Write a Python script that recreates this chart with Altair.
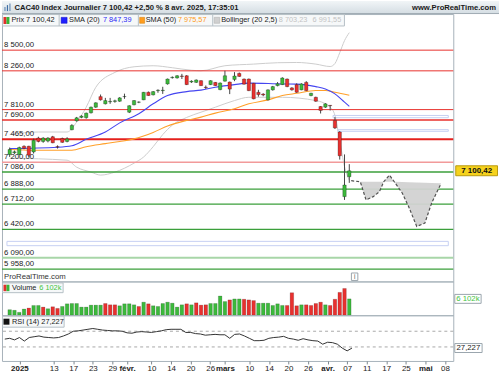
import json
import altair as alt
import pandas as pd

FONT = "Liberation Sans"

# ---------------- data ----------------
day_idx = list(range(72))
opens = [7289, 7308, 7289, 7385, 7385, 7319, 7480, 7440, 7445, 7495, 7380, 7475, 7440, 7577, 7680, 7720,
         7716, 7773, 7838, 7961, 7877, 7900, 7905, 7907, 7960, 7780, 7866, 7896, 7923, 8011, 7981, 8030,
         8030, 8108, 8180, 8177, 8200, 8203, 8130, 8126, 8146, 8070, 8100, 8126, 8042, 8140, 8130, 8160,
         8230, 8165, 8165, 8115, 8011, 7990, 7923, 8039, 8088, 8100, 8165, 8062, 8100, 8039, 8126, 7973,
         7953, 7846, 7838, 7860, 7685, 7550, 6800, 7031]
highs = [7370, 7335, 7380, 7395, 7390, 7473, 7495, 7490, 7490, 7505, 7395, 7485, 7490, 7640, 7725, 7745,
         7775, 7845, 7895, 7985, 7946, 7946, 7925, 7955, 7995, 7860, 7920, 7905, 8015, 8020, 8025, 8045,
         8075, 8170, 8195, 8210, 8225, 8210, 8150, 8160, 8150, 8090, 8150, 8130, 8125, 8261, 8135, 8245,
         8240, 8170, 8170, 8120, 8040, 8000, 8045, 8085, 8130, 8185, 8170, 8070, 8115, 8115, 8140, 8005,
         7960, 7850, 7885, 7862, 7723, 7560, 7290, 7177]
lows = [7261, 7296, 7280, 7350, 7258, 7300, 7430, 7425, 7430, 7420, 7358, 7425, 7430, 7570, 7670, 7710,
        7705, 7765, 7830, 7915, 7870, 7877, 7890, 7900, 7935, 7770, 7860, 7885, 7920, 7970, 7975, 8005,
        7992, 8100, 8170, 8170, 8165, 8095, 8120, 8120, 8085, 8050, 8095, 8085, 8035, 8135, 7990, 8140,
        8190, 8100, 8025, 7930, 7960, 7965, 7915, 8030, 8080, 8095, 8070, 8030, 8005, 8035, 8025, 7965,
        7900, 7765, 7830, 7800, 7585, 7230, 6762, 6960]
closes = [7347, 7320, 7370, 7360, 7281, 7454, 7440, 7480, 7480, 7425, 7375, 7430, 7470, 7627, 7715, 7735,
          7769, 7838, 7889, 7923, 7915, 7905, 7912, 7946, 7962, 7855, 7915, 7898, 8011, 7973, 8019, 8035,
          8035, 8165, 8185, 8203, 8195, 8100, 8140, 8154, 8088, 8065, 8146, 8088, 8119, 8203, 8048, 8200,
          8195, 8105, 8030, 7935, 7984, 7980, 8039, 8077, 8110, 8177, 8077, 8039, 8011, 8108, 8030, 8000,
          7907, 7800, 7877, 7855, 7598, 7274, 6935, 7100.42]
volumes_m = [2.07, 1.82, 1.09, 2.31, 2.68, 3.65, 3.65, 3.04, 2.43, 3.16, 2.55, 3.28, 4.26, 4.38, 4.38, 3.04,
             3.04, 3.77, 3.77, 3.77, 4.38, 3.89, 3.89, 3.53, 4.26, 4.26, 3.89, 3.28, 4.87, 4.26, 3.53, 3.28,
             4.38, 4.87, 4.50, 3.04, 3.89, 4.26, 3.89, 4.62, 3.77, 3.89, 4.38, 4.38, 7.18, 5.11, 5.72, 6.08,
             6.08, 5.96, 5.72, 5.47, 4.50, 4.50, 4.50, 3.65, 4.26, 3.65, 3.65, 8.39, 3.53, 3.89, 3.89, 3.65,
             4.38, 4.87, 3.89, 3.65, 5.96, 8.52, 9.98, 6.102]
vol_dir = ["up", "up", "up", "up", "down", "up", "up", "down", "up", "down", "down", "up", "up", "up", "up", "up",
           "up", "up", "up", "up", "down", "down", "down", "up", "up", "up", "up", "down", "up", "down", "up", "up",
           "up", "up", "up", "up", "up", "down", "up", "down", "down", "down", "up", "up", "up", "up", "down", "up",
           "up", "down", "down", "down", "up", "up", "up", "up", "up", "up", "down", "down", "down", "up", "down", "down",
           "down", "down", "up", "down", "down", "down", "down", "up"]
rsi_vals = [50, 52, 48, 54, 45, 54, 56, 58, 55, 54, 53, 54, 58, 63, 70, 71, 73, 75, 77, 75, 73, 72, 71, 71,
            70, 66, 65, 68, 69, 68, 67, 69, 71, 74, 75, 75, 75, 67, 67, 64, 63, 60, 61, 62, 61, 61, 52, 62,
            63, 58, 52, 46, 46, 47, 52, 54, 55, 57, 52, 50, 47, 51, 48, 46, 45, 37, 42, 41, 37, 27, 20, 27.227]

sma20_i = [0, 10, 13, 16, 20, 23, 27, 30, 33, 37, 40, 43, 47, 50, 57, 60, 64, 66, 68, 70, 71]
sma20_v = [7358, 7373, 7390, 7465, 7550, 7656, 7762, 7877, 7973, 8019, 8036, 8069, 8100, 8117, 8108, 8106,
           8077, 8050, 7992, 7896, 7847.39]
sma50_i = [0, 5, 13, 16, 20, 23, 26, 30, 33, 37, 40, 43, 47, 50, 54, 57, 60, 64, 66, 68, 71]
sma50_v = [7347, 7339, 7339, 7380, 7415, 7440, 7470, 7545, 7620, 7685, 7723, 7769, 7820, 7877, 7923, 7973,
           7999, 8031, 8031, 8011, 7975.57]
boll_up_i = [0, 6, 12, 14, 16, 18, 22, 26, 30, 34, 38, 40, 45, 51, 56, 60, 64, 67, 68, 69, 70, 71]
boll_up_v = [7520, 7550, 7550, 7665, 7838, 8069, 8242, 8307, 8319, 8296, 8267, 8261, 8319, 8338, 8354, 8357,
             8338, 8310, 8345, 8470, 8610, 8703.23]
boll_lo_i = [0, 12, 14, 17, 19, 22, 26, 28, 30, 32, 34, 37, 40, 43, 47, 50, 57, 64, 67, 68, 69, 70, 71]
boll_lo_v = [7246, 7223, 7142, 7085, 7050, 7085, 7189, 7260, 7380, 7520, 7630, 7719, 7780, 7838, 7915, 7953,
             7953, 7915, 7838, 7742, 7450, 7150, 6991.55]

proj_i = [71.4, 73.3, 74.5, 76.0, 77.3, 78.2, 79.4, 80.4, 82.1, 83.4, 85.1, 86.8, 88.2, 90.2]
proj_v = [6985, 6973, 6762, 6800, 6858, 6973, 7050, 6973, 6839, 6685, 6454, 6493, 6724, 6954]
neck_v = [6985, 6973, 6973, 6973, 6973, 6973, 6973, 6973, 6970, 6968, 6965, 6962, 6959, 6954]

res_levels = [8500, 8260, 7810]
res_strong = [7690]
res_major = [7465]
res_weak = [7200]
sup_levels = [7086, 6888, 6712, 6420, 5958]
sup_weak = [6090]

gap_lo = [7716, 7558, 6231]
gap_hi = [7742, 7577, 6281]
gap_from = [67.6, 68.6, -0.57]
gap_to = [91.7, 91.7, 91.7]

tick_idx = [3, 10, 14, 18, 22, 25, 30, 34, 38, 42, 45, 50, 54, 58, 62, 66, 70, 74, 78, 82, 86, 90]
tick_lbl = ["2025", "13", "17", "23", "29", "févr.", "10", "14", "20", "26", "mars", "10", "14", "20",
            "26", "avr.", "07", "11", "17", "25", "mai", "08"]
tick_bold = [3, 25, 45, 66, 86]

price_ticks = [6000, 6500, 7000, 7500, 8000, 8500]
last_close = 7100.42
change_pct = 2.50
last_sma20 = 7847.39
last_sma50 = 7975.57
last_boll_up = 8703.23
last_boll_lo = 6991.55
last_vol_k = 6102
last_rsi = 27.227

# ---------------- helpers ----------------
def fr(v, d=2):
    return f"{v:,.{d}f}".replace(",", " ").replace(".", ",")

X_DOM = [-0.57, 91.7]
W = 454
H_HEAD, H_PRICE, H_VOL, H_RSI = 13, 269, 34, 46
xs = alt.Scale(domain=X_DOM, nice=False, zero=False)
ys = alt.Scale(domain=[5816, 8919], nice=False, zero=False)
vs = alt.Scale(domain=[0, 12.6], nice=False, zero=False)
rs = alt.Scale(domain=[-5.7, 110.8], nice=False, zero=False)

one = pd.DataFrame({"k": [0]})
TXT = "#1a1a1a"
GREEN = "#3cb93c"
RED = "#e8312f"
LEG = 7.4


def txt(s, x, y, color=TXT, size=LEG, weight="normal", align="left"):
    return alt.Chart(one).mark_text(text=s, font=FONT, fontSize=size, fontWeight=weight, color=color,
                                    align=align, baseline="middle").encode(x=alt.value(x), y=alt.value(y))


def box(x1, x2, y1, y2, fill, stroke="#b5bfc6", sw=1):
    return alt.Chart(one).mark_rect(fill=fill, stroke=stroke, strokeWidth=sw).encode(
        x=alt.value(x1), x2=alt.value(x2), y=alt.value(y1), y2=alt.value(y2))


def vline(x, y1, y2, color="#b5bfc6"):
    return alt.Chart(one).mark_rule(color=color, strokeWidth=1).encode(
        x=alt.value(x), y=alt.value(y1), y2=alt.value(y2))

# ---------------- header ----------------
grad = alt.LinearGradient(gradient="linear", stops=[alt.GradientStop(color="#f1f5f7", offset=0),
                                                    alt.GradientStop(color="#d3dce2", offset=1)],
                          x1=0, x2=0, y1=0, y2=1)
head_bg = alt.Chart(one).mark_rect(fill=grad).encode(
    x=alt.value(0), x2=alt.value(500), y=alt.value(0), y2=alt.value(13))
head_line = alt.Chart(one).mark_rule(color="#9fabb3").encode(
    x=alt.value(0), x2=alt.value(500), y=alt.value(12.5))
icon = [alt.Chart(one).mark_rule(color=c, strokeWidth=1.2).encode(
    x=alt.value(xv), y=alt.value(y1), y2=alt.value(10))
    for xv, y1, c in [(3, 6, "#6a8fb8"), (5.5, 4, "#3d6ea5"), (8, 2.5, "#6a8fb8")]]
head_title = f"CAC40 Index Journalier {fr(last_close)} +{fr(change_pct)} % 8 avr. 2025, 17:35:01"
header = alt.layer(
    head_bg, head_line, *icon,
    txt(head_title, 12.5, 6.5, size=7.7, weight="bold"),
    txt("www.ProRealTime.com", 497, 6.5, size=7.7, weight="bold", align="right"),
).properties(width=500, height=H_HEAD, view=alt.ViewBackground(strokeWidth=0))

# ---------------- price panel ----------------
cdf = pd.DataFrame({"i": day_idx, "o": opens, "h": highs, "l": lows, "c": closes})
cdf["dir"] = ["up" if c >= o else "down" for o, c in zip(opens, closes)]


def line_df(ii, vv):
    return pd.DataFrame({"i": ii, "v": vv})


def ind_line(ii, vv, color, width=1):
    return alt.Chart(line_df(ii, vv)).mark_line(color=color, strokeWidth=width, interpolate="monotone").encode(
        x=alt.X("i:Q", scale=xs, axis=None), y=alt.Y("v:Q", scale=ys, axis=None))


def level_layer(vals, color, width):
    return alt.Chart(pd.DataFrame({"v": vals})).mark_rule(color=color, strokeWidth=width).encode(
        y=alt.Y("v:Q", scale=ys, axis=None))


all_levels = res_levels + res_strong + res_major + res_weak + sup_levels + sup_weak
lvl_lbl = pd.DataFrame({"v": all_levels, "t": [fr(v) for v in all_levels]})
level_labels = alt.Chart(lvl_lbl).mark_text(font=FONT, fontSize=7.8, color=TXT, align="left",
                                            baseline="bottom", dy=-1).encode(
    x=alt.value(2), y=alt.Y("v:Q", scale=ys, axis=None), text="t:N")

gaps = alt.Chart(pd.DataFrame({"lo": gap_lo, "hi": gap_hi, "a": gap_from, "b": gap_to})).mark_rect(
    fill="white", fillOpacity=0, stroke="#c6d0f2", strokeWidth=1).encode(
    x=alt.X("a:Q", scale=xs, axis=None), x2="b:Q", y=alt.Y("lo:Q", scale=ys, axis=None), y2="hi:Q")

pdf = pd.DataFrame({"i": proj_i, "v": proj_v, "n": neck_v})
proj_area = alt.Chart(pdf).mark_area(color="#d2d2d2", opacity=0.95).encode(
    x=alt.X("i:Q", scale=xs, axis=None), y=alt.Y("v:Q", scale=ys, axis=None), y2="n:Q")
proj_line = alt.Chart(pdf).mark_line(color="#505050", strokeWidth=1.2, strokeDash=[3, 2]).encode(
    x=alt.X("i:Q", scale=xs, axis=None), y=alt.Y("v:Q", scale=ys, axis=None))

wicks = alt.Chart(cdf).mark_rule(color="#474747", strokeWidth=1).encode(
    x=alt.X("i:Q", scale=xs, axis=None), y=alt.Y("l:Q", scale=ys, axis=None), y2="h:Q")
price_axis = alt.Axis(orient="right", values=price_ticks, title=None, grid=False, domain=False,
                      labelExpr="replace(format(datum.value, ','), ',', ' ')", tickSize=3,
                      labelPadding=2, labelFontSize=7.8, labelFlush=False)
bodies = alt.Chart(cdf).mark_bar(size=3.4, stroke="black", strokeOpacity=0.45, strokeWidth=0.6).encode(
    x=alt.X("i:Q", scale=xs, axis=None),
    y=alt.Y("o:Q", scale=ys, axis=price_axis), y2="c:Q",
    color=alt.Color("dir:N", scale=alt.Scale(domain=["up", "down"], range=[GREEN, RED]), legend=None))

last_df = pd.DataFrame({"v": [last_close], "t": [fr(last_close)]})
last_box = alt.Chart(last_df).mark_rect(fill="#f6d21c", stroke="#b89a10", strokeWidth=1,
                                        yOffset=-5, y2Offset=5).encode(
    x=alt.value(456.5), x2=alt.value(498.5), y=alt.Y("v:Q", scale=ys, axis=None), y2="v:Q")
last_txt = alt.Chart(last_df).mark_text(font=FONT, fontSize=8, fontWeight="bold", color="#111",
                                        align="center", baseline="middle").encode(
    x=alt.value(477.5), y=alt.Y("v:Q", scale=ys, axis=None), text="t:N")

legend_row = [
    box(0.5, 344.5, 0.5, 12, "#f6f8f9"),
    box(1.5, 4.5, 3, 10, "#e0302c", stroke="#e0302c", sw=0),
    box(4.5, 7.5, 3, 10, "#37b537", stroke="#37b537", sw=0),
    txt(f"Prix {fr(last_close)}", 9.5, 6.5),
    vline(57.5, 0.5, 12),
    box(59.5, 65.5, 3.3, 9.3, "#1f1fff", stroke="#1010c0", sw=0.5),
    txt("SMA (20)", 67.5, 6.5),
    txt(fr(last_sma20), 101.5, 6.5, color="#2b2bf5"),
    vline(137.2, 0.5, 12),
    box(138.5, 143.5, 3.3, 9.3, "#ff9d1f", stroke="#d07a00", sw=0.5),
    txt("SMA (50)", 144.5, 6.5),
    txt(fr(last_sma50), 177, 6.5, color="#ff9a1a"),
    vline(212, 0.5, 12),
    box(213.5, 219, 3.3, 9.3, "#d0d0d0", stroke="#a9a9a9", sw=0.5),
    txt("Bollinger (20 2,5)", 220.5, 6.5),
    txt(fr(last_boll_up), 278.5, 6.5, color="#c3c3c3"),
    txt(fr(last_boll_lo), 312.5, 6.5, color="#c3c3c3"),
]

price = alt.layer(
    ind_line(boll_up_i, boll_up_v, "#cdcdcd"),
    ind_line(boll_lo_i, boll_lo_v, "#cdcdcd"),
    gaps,
    level_layer(res_levels, "#e8302c", 1),
    level_layer(res_strong, "#e8302c", 1.6),
    level_layer(res_major, "#e4201c", 2),
    level_layer(res_weak, "#f29a9a", 1.6),
    level_layer(sup_levels, "#3b9f3b", 1.3),
    level_layer(sup_weak, "#a8d6a8", 2),
    level_labels,
    ind_line(sma50_i, sma50_v, "#ffa02a", 1.1),
    ind_line(sma20_i, sma20_v, "#4646f0", 1.1),
    proj_area, proj_line,
    wicks, bodies,
    last_box, last_txt,
    *legend_row,
    txt("ProRealTime.com", 2, 264.5, color="#333", size=7.8),
    box(351.5, 358, 260.5, 268, "#ffffff", stroke="#9aa4ab"),
    txt("i", 354.75, 264.3, color="#555", size=6.5, align="center"),
).properties(width=W, height=H_PRICE)

# ---------------- volume panel ----------------
vdf = pd.DataFrame({"i": day_idx, "v": volumes_m, "d": vol_dir})
vol_axis = alt.Axis(orient="right", values=[0, 10], title=None, grid=False, domain=False, tickSize=3,
                    labelPadding=2, labelFontSize=7.8, labelFlush=False,
                    labelExpr="datum.value == 0 ? '0' : '10M'",
                    labelFontWeight={"condition": {"test": "datum.value == 0", "value": "bold"}, "value": "normal"},
                    labelBaseline={"condition": {"test": "datum.value == 0", "value": "bottom"}, "value": "middle"})
vol_bars = alt.Chart(vdf).mark_bar(size=3.6, stroke="black", strokeOpacity=0.3, strokeWidth=0.5).encode(
    x=alt.X("i:Q", scale=xs, axis=None), y=alt.Y("v:Q", scale=vs, axis=vol_axis),
    color=alt.Color("d:N", scale=alt.Scale(domain=["up", "down"], range=["#52cf52", "#e45454"]), legend=None))
vlast = pd.DataFrame({"v": [last_vol_k / 1000], "t": [f"{last_vol_k // 1000} {last_vol_k % 1000:03d}k"]})
vol_box = alt.Chart(vlast).mark_rect(fill="white", stroke="#9aa5ad", strokeWidth=1, yOffset=-4.5,
                                     y2Offset=4.5).encode(
    x=alt.value(455.5), x2=alt.value(482), y=alt.Y("v:Q", scale=vs, axis=None), y2="v:Q")
vol_txt = alt.Chart(vlast).mark_text(font=FONT, fontSize=7.8, color="#3fc43f", align="center",
                                     baseline="middle").encode(
    x=alt.value(468.7), y=alt.Y("v:Q", scale=vs, axis=None), text="t:N")
volume = alt.layer(
    vol_bars, vol_box, vol_txt,
    box(0.5, 61.5, 1.5, 11.3, "#f6f8f9"),
    box(1.5, 4.5, 3.3, 9.8, "#e0302c", stroke="#e0302c", sw=0),
    box(4.5, 7.5, 3.3, 9.8, "#37b537", stroke="#37b537", sw=0),
    txt("Volume", 10, 6.6),
    txt(vlast["t"][0], 37.5, 6.6, color="#3fc43f"),
).properties(width=W, height=H_VOL)

# ---------------- RSI panel ----------------
rdf = pd.DataFrame({"i": day_idx, "r": rsi_vals})
x_axis = alt.Axis(values=tick_idx, title=None, grid=False, domain=False, tickSize=3, labelPadding=1,
                  labelFontSize=8, labelFlush=False, labelOverlap=False, labelColor="#222",
                  labelExpr=f"{json.dumps(tick_lbl, ensure_ascii=False)}[indexof({json.dumps(tick_idx)}, datum.value)]",
                  labelFontWeight={"condition": {"test": f"indexof({json.dumps(tick_bold)}, datum.value) >= 0",
                                                 "value": "bold"}, "value": "normal"})
rsi_axis = alt.Axis(orient="right", values=[0, 50, 100], title=None, grid=False, domain=False, tickSize=3,
                    labelPadding=2, labelFontSize=7.8, labelFlush=False,
                    labelFontWeight={"condition": {"test": "datum.value != 50", "value": "bold"}, "value": "normal"},
                    labelBaseline={"condition": {"test": "datum.value == 0", "value": "alphabetic"}, "value": "middle"})
rsi_guides = alt.Chart(pd.DataFrame({"g": [30, 70]})).mark_rule(color="#a8a8a8", strokeDash=[3, 3],
                                                                 strokeWidth=1).encode(
    y=alt.Y("g:Q", scale=rs, axis=None))
rsi_line = alt.Chart(rdf).mark_line(color="#333333", strokeWidth=1).encode(
    x=alt.X("i:Q", scale=xs, axis=x_axis), y=alt.Y("r:Q", scale=rs, axis=rsi_axis))
rlast = pd.DataFrame({"v": [last_rsi], "t": [fr(last_rsi, 3)]})
rsi_box = alt.Chart(rlast).mark_rect(fill="white", stroke="#9aa5ad", strokeWidth=1, yOffset=-4.5,
                                     y2Offset=4.5).encode(
    x=alt.value(455.5), x2=alt.value(483), y=alt.Y("v:Q", scale=rs, axis=None), y2="v:Q")
rsi_txt = alt.Chart(rlast).mark_text(font=FONT, fontSize=7.8, color=TXT, align="center",
                                     baseline="middle").encode(
    x=alt.value(469.2), y=alt.Y("v:Q", scale=rs, axis=None), text="t:N")
rsi = alt.layer(
    rsi_guides, rsi_line, rsi_box, rsi_txt,
    box(0.5, 62.5, 1, 12, "#f6f8f9"),
    box(1.5, 7.5, 3.5, 9.5, "#111111", stroke="#111111", sw=0),
    txt(f"RSI (14) {fr(last_rsi, 3)}", 10, 6.5),
).properties(width=W, height=H_RSI)

chart = alt.VConcatChart(vconcat=[header, price, volume, rsi], spacing=0, bounds="flush", padding=0)
chart = chart.configure_view(stroke="#a7b2ba", strokeWidth=1).configure_axis(
    labelFont=FONT, labelColor="#222", tickColor="#7d878e")

chart.save("out.html", embed_options={"renderer": "svg", "actions": False})
